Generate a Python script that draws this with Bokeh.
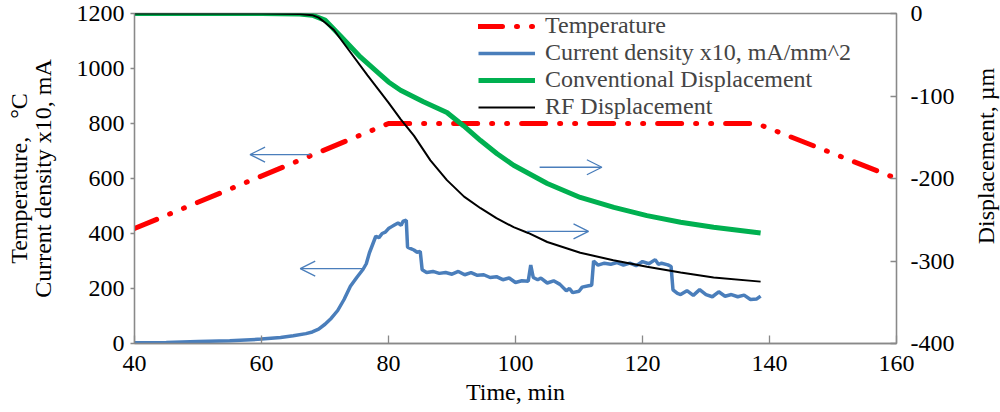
import math
from bokeh.plotting import figure
from bokeh.layouts import row
from bokeh.models import Range1d, LinearAxis, FixedTicker, Arrow, OpenHead, Legend, LegendItem
from bokeh.core.properties import value
from bokeh.embed import file_html
from bokeh.resources import INLINE

# ---------------- data ----------------
x_ticks = [40, 60, 80, 100, 120, 140, 160]
left_ticks = [0, 200, 400, 600, 800, 1000, 1200]
right_ticks = [-400, -300, -200, -100, 0]

temp_t = [40, 80, 138, 160]
temperature = [418, 800, 800, 600]

cur_t = [40, 45, 50, 55, 60, 63, 65, 67, 68, 69, 70, 71, 72, 73, 74, 75, 76, 76.5, 77, 77.5,
         78, 78.5, 79, 79.5, 80, 80.5, 81, 81.5, 82, 82.3, 82.8, 83, 83.5, 84, 84.5, 85, 85.3,
         86, 87, 88, 89, 90, 91, 92, 93, 94, 95, 96, 97, 98, 99, 100, 101, 102, 102.4, 102.8,
         103.5, 104, 105, 106, 107, 108, 108.5, 109, 110, 110.5, 111.5, 112, 112.3, 113, 114,
         115, 116, 117, 118, 119, 120, 121, 122, 122.5, 123, 124, 124.5, 124.8, 125.5, 126,
         127, 128, 129, 130, 131, 132, 133, 134, 135, 136, 137, 138, 138.6]
current = [3, 4, 7, 10, 16, 22, 28, 36, 42, 52, 70, 92, 120, 160, 208, 240, 270, 290, 330, 360,
           390, 385, 400, 405, 418, 425, 432, 438, 430, 445, 448, 350, 345, 340, 332, 335, 268,
           258, 262, 255, 258, 252, 262, 250, 258, 248, 250, 240, 243, 232, 238, 222, 228, 226, 285, 240,
           232, 238, 220, 228, 215, 192, 200, 185, 190, 205, 210, 212, 300, 285, 292,
           288, 294, 285, 292, 283, 298, 290, 305, 288, 292, 286, 280, 195, 182, 178,
           192, 175, 196, 178, 170, 188, 172, 178, 170, 176, 160, 162, 172]

conv_t = [40, 60, 66, 68, 70, 72.4, 75.6, 78.7, 80, 81.9, 85.5, 89.2, 91.8, 94.5, 97.1, 99.7,
          105, 110.2, 115.5, 120.7, 126, 131.2, 138.6]
conv_disp = [0, 0, -0.5, -2, -8, -27, -53, -74, -83, -93, -107, -120, -136, -154, -170, -184,
             -206, -223, -235, -245, -253, -259, -266]

rf_t = [40, 60, 66, 68, 69, 70, 71.4, 74, 76.7, 78.7, 80, 81.9, 84, 86.6, 89.2, 91.9, 94.5, 97,
        99.7, 102, 105, 110.2, 115.4, 120.7, 126, 131.2, 138.6]
rf_disp = [0, 0, -0.5, -2, -5, -11, -20, -47, -75, -95, -108, -128, -148, -178, -202, -222, -236,
           -248, -259, -266, -277, -290, -299, -307, -314, -320, -325]

# arrows: (x_start, x_end, y) in left-axis units
arrow_x0 = [67.7, 103.8, 101.8, 75.9]
arrow_x1 = [58.2, 113.6, 111.5, 66.1]
arrow_y = [687, 641, 408, 272]

labels = ["Temperature", "Current density x10, mA/mm^2", "Conventional Displacement", "RF Displacement"]
right_axis_title = "Displacement, \u00b5m"

# ---------------- styling ----------------
FONT = "Liberation Serif"
RED = "#FF0000"
BLUE = "#4A7EBB"
GREEN = "#00B050"
BLACK = "#000000"
AXC = "#898989"

p = figure(width=966, height=412, output_backend="svg", toolbar_location=None,
           x_range=Range1d(40, 160), y_range=Range1d(0, 1200),
           min_border_left=134, min_border_right=70, min_border_top=13, min_border_bottom=69)
p.extra_y_ranges = {"disp": Range1d(-400, 0)}
p.grid.visible = False
p.outline_line_color = AXC
p.outline_line_width = 1.3
p.background_fill_color = "white"

r_temp = p.line(temp_t, temperature, line_color=RED, line_width=5, line_dash="24 14 1 14 1 14",
                line_cap="round")
r_cur = p.line(cur_t, current, line_color=BLUE, line_width=3.5)
r_conv = p.line(conv_t, conv_disp, line_color=GREEN, line_width=5, y_range_name="disp")
r_rf = p.line(rf_t, rf_disp, line_color=BLACK, line_width=2, y_range_name="disp")

for xs, xe, yy in zip(arrow_x0, arrow_x1, arrow_y):
    p.add_layout(Arrow(end=OpenHead(size=15, line_color=BLUE, line_width=1.3),
                       x_start=xs, y_start=yy, x_end=xe, y_end=yy,
                       line_color=BLUE, line_width=1.3))

def style_axis(ax):
    ax.axis_line_color = AXC
    ax.axis_line_width = 1.3
    ax.major_tick_line_color = AXC
    ax.major_tick_line_width = 1.3
    ax.minor_tick_line_color = None
    ax.major_label_text_font = FONT
    ax.major_label_text_font_size = "24px"
    ax.major_label_text_color = "black"
    ax.axis_label_text_font = FONT
    ax.axis_label_text_font_size = "24px"
    ax.axis_label_text_font_style = "normal"
    ax.axis_label_text_color = "black"

xa = p.xaxis[0]
style_axis(xa)
xa.ticker = FixedTicker(ticks=x_ticks)
xa.major_tick_in = 8
xa.major_tick_out = 0
xa.major_label_standoff = 12
xa.axis_label = "Time, min"
xa.axis_label_standoff = 5

ya = p.yaxis[0]
style_axis(ya)
ya.ticker = FixedTicker(ticks=left_ticks)
ya.major_tick_in = 0
ya.major_tick_out = 4
ya.major_label_standoff = 6
ya.axis_label = "Temperature,\u00a0\u00a0 \u00b0C\nCurrent density x10, mA"
ya.axis_label_text_line_height = 0.9
ya.axis_label_standoff = 18

ra = LinearAxis(y_range_name="disp")
style_axis(ra)
ra.ticker = FixedTicker(ticks=right_ticks)
ra.major_label_overrides = {t: str(t) for t in right_ticks}
ra.major_tick_in = 6
ra.major_tick_out = 0
ra.major_label_standoff = 14
p.add_layout(ra, "right")

legend = Legend(items=[LegendItem(label=l, renderers=[r]) for l, r in
                       zip(labels, [r_temp, r_cur, r_conv, r_rf])],
                location=(344, 223), padding=0, spacing=0, margin=0,
                glyph_width=57, glyph_height=20, label_standoff=10, label_height=27,
                label_text_font=FONT, label_text_font_size="24px",
                background_fill_alpha=0, border_line_alpha=0)
p.add_layout(legend)

# narrow companion figure holding the right axis title (reads bottom-to-top)
p2 = figure(width=34, height=412, output_backend="svg", toolbar_location=None,
            x_range=Range1d(0, 34), y_range=Range1d(0, 412),
            min_border=0, min_border_left=0, min_border_right=0, min_border_top=0, min_border_bottom=0)
p2.axis.visible = False
p2.grid.visible = False
p2.outline_line_color = None
p2.text(x=[19], y=[412 - 178], text=[right_axis_title], angle=math.pi / 2,
        text_align="center", text_baseline="middle", text_font=value(FONT),
        text_font_size="24px", text_color="black")

open("out.html", "w").write(file_html(row(p, p2, spacing=0), INLINE))
